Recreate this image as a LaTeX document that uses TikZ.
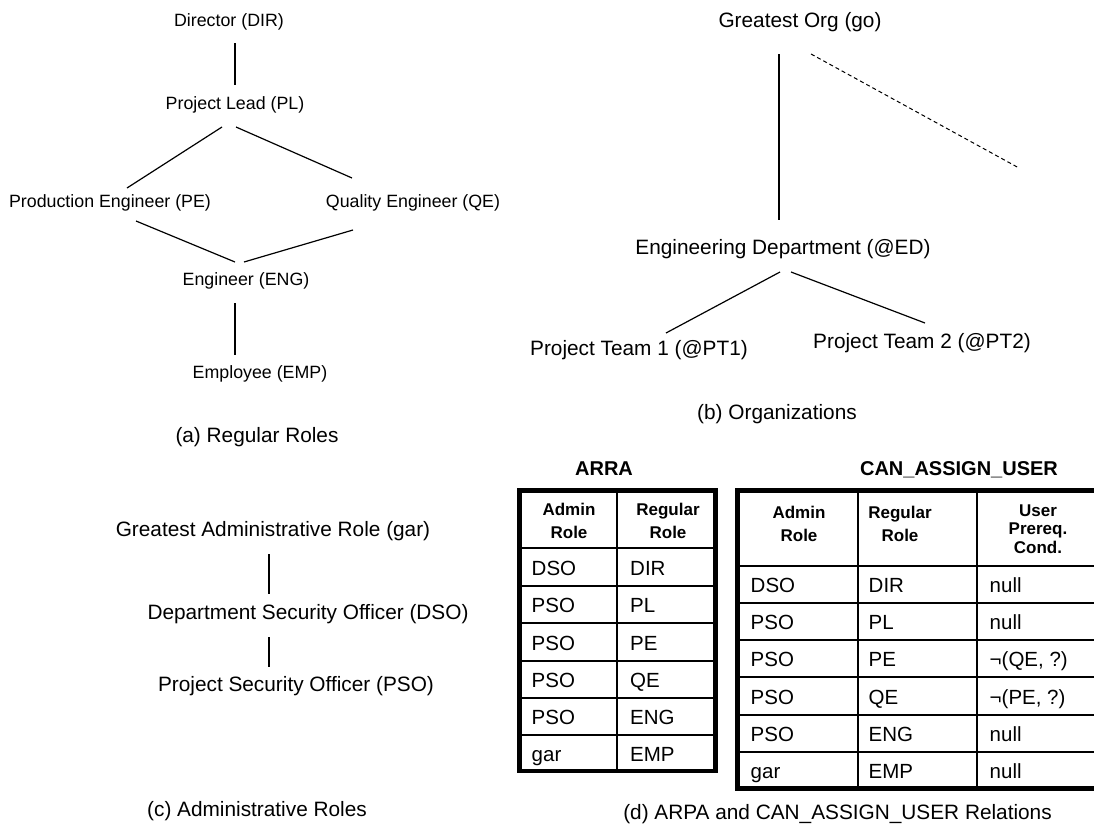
\documentclass[tikz,border=0pt]{standalone}
\usepackage{fontspec}
\setmainfont{Liberation Sans}
\begin{document}
\begin{tikzpicture}[x=1pt,y=-1pt,
  lbl/.style={inner sep=0pt, font=\fontsize{17.8}{20}\selectfont},
  big/.style={inner sep=0pt, font=\fontsize{20.8}{24}\selectfont},
  cell/.style={inner sep=0pt, anchor=base west, font=\fontsize{20.5}{24}\selectfont},
  hdr/.style={inner sep=0pt, align=center, font=\bfseries\fontsize{17}{23}\selectfont},
  hdrtight/.style={inner sep=0pt, align=center, font=\bfseries\fontsize{17}{18.5}\selectfont},
  ttl/.style={inner sep=0pt, anchor=base, font=\bfseries\fontsize{20}{24}\selectfont},
  conn/.style={line width=1.2pt},
  dashconn/.style={line width=1pt, dash pattern=on 4pt off 3pt},
  gridline/.style={line width=1.3pt},
  frame/.style={line width=4.5pt}]
\fill[white] (0,0) rectangle (1094,830);
\useasboundingbox (0,0) rectangle (1094,830);

% (a) Regular roles
\node[lbl] (dir) at (229,22) {Director (DIR)};
\node[lbl] (pl) at (235,105) {Project Lead (PL)};
\node[lbl] (pe) at (110,203) {Production Engineer (PE)};
\node[lbl] (qe) at (413,203) {Quality Engineer (QE)};
\node[lbl] (eng) at (246,281) {Engineer (ENG)};
\node[lbl] (emp) at (260,374) {Employee (EMP)};
\node[big] (capA) at (257,437) {(a) Regular Roles};
\draw[conn] ([shift={(6,21)}]dir.center) -- ([shift={(0,-20)}]pl.center);
\draw[conn] ([shift={(-13,22)}]pl.center) -- ([shift={(17,-15)}]pe.center);
\draw[conn] ([shift={(1,22)}]pl.center) -- ([shift={(-61,-25)}]qe.center);
\draw[conn] ([shift={(26,18)}]pe.center) -- ([shift={(-11,-19)}]eng.center);
\draw[conn] ([shift={(-60,27)}]qe.center) -- ([shift={(-2,-19)}]eng.center);
\draw[conn] ([shift={(-11,22)}]eng.center) -- ([shift={(-25,-19)}]emp.center);

% (b) Organizations
\node[big] (go) at (800,22) {Greatest Org (go)};
\node[big] (ed) at (783,249) {Engineering Department (@ED)};
\node[big] (pt1) at (639,350) {Project Team 1 (@PT1)};
\node[big] (pt2) at (922,343) {Project Team 2 (@PT2)};
\node[big] (capB) at (777,414) {(b) Organizations};
\coordinate (goext) at (1019,168);
\draw[conn] ([shift={(-21,32)}]go.center) -- ([shift={(-4,-29)}]ed.center);
\draw[dashconn] ([shift={(11,32)}]go.center) -- (goext);
\draw[conn] ([shift={(-3,23)}]ed.center) -- ([shift={(27,-17)}]pt1.center);
\draw[conn] ([shift={(8,23)}]ed.center) -- ([shift={(3,-20)}]pt2.center);

% (c) Administrative roles
\node[big] (gar) at (273,531) {Greatest Administrative Role (gar)};
\node[big] (dso) at (308,614) {Department Security Officer (DSO)};
\node[big] (pso) at (296,686) {Project Security Officer (PSO)};
\node[big] (capC) at (257,811) {(c) Administrative Roles};
\draw[conn] ([shift={(-4,23)}]gar.center) -- ([shift={(-39,-20)}]dso.center);
\draw[conn] ([shift={(-39,23)}]dso.center) -- ([shift={(-27,-19)}]pso.center);

% (d) ARRA table
\node[ttl] (arraT) at (604,475) {ARRA};
\draw[gridline] (617,490.5) -- (617,771);
\foreach \y in {548,586,623,661,698,735} \draw[gridline] (519.5,\y) -- (715.5,\y);
\draw[frame] (519.5,490.5) rectangle (715.5,771);
\node[hdr] (arraH1) at (569,520.5) {Admin\\Role};
\node[hdr] (arraH2) at (668,520.5) {Regular\\Role};
\foreach \yb/\a/\b [count=\i] in {575/DSO/DIR,612.5/PSO/PL,650/PSO/PE,687.5/PSO/QE,724.5/PSO/ENG,761/gar/EMP} {
  \node[cell] (arraA\i) at (531.5,\yb) {\a};
  \node[cell] (arraB\i) at (630,\yb) {\b};
}

% (d) CAN_ASSIGN_USER table
\node[ttl] (canT) at (959,475) {CAN\_ASSIGN\_USER};
\draw[gridline] (858,490.5) -- (858,788.5);
\draw[gridline] (977,490.5) -- (977,788.5);
\foreach \y in {566,603,640,677,715,752} \draw[gridline] (737.5,\y) -- (1100,\y);
\draw[frame] (737.5,490.5) rectangle (1110,788.5);
\node[hdr] (canH1) at (799,523.5) {Admin\\Role};
\node[hdr] (canH2) at (900,523.5) {Regular\\Role};
\node[hdrtight] (canH3) at (1038,529) {User\\Prereq.\\Cond.};
\foreach \yb/\a/\b/\c [count=\i] in {592.5/DSO/DIR/null,629.5/PSO/PL/null,666.5/PSO/PE/{¬(QE, ?)},704/PSO/QE/{¬(PE, ?)},741.5/PSO/ENG/null,778/gar/EMP/null} {
  \node[cell] (canA\i) at (750.5,\yb) {\a};
  \node[cell] (canB\i) at (868.5,\yb) {\b};
  \node[cell] (canC\i) at (989.5,\yb) {\c};
}
\node[big] (capD) at (837.5,814) {(d) ARPA and CAN\_ASSIGN\_USER Relations};
\end{tikzpicture}
\end{document}
